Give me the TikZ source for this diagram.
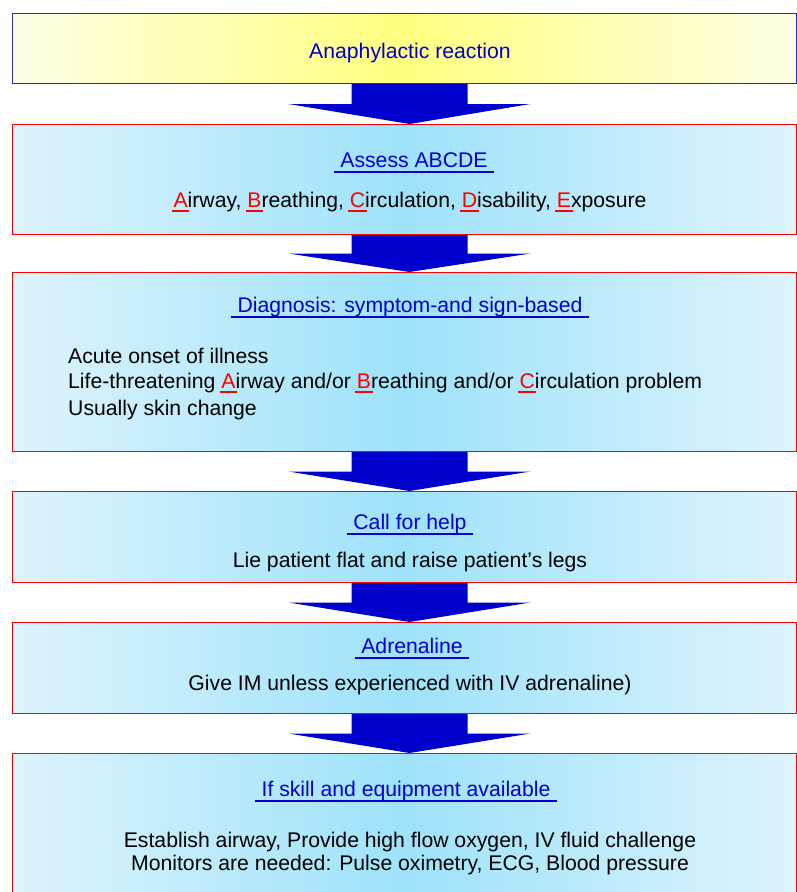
\documentclass[tikz,border=0pt]{standalone}
\usepackage{fontspec}
\setmainfont{Liberation Sans}
\usetikzlibrary{calc}

\definecolor{headblue}{RGB}{0,0,204}
\definecolor{paleblue}{RGB}{222,244,253}
\definecolor{midblue}{RGB}{158,226,250}
\definecolor{paleyellow}{RGB}{255,255,230}
\definecolor{midyellow}{RGB}{255,255,128}

% red initial letter with a red bar under it
\newcommand{\redini}[1]{{\color{red}\setbox0\hbox{#1}\rlap{\hskip-1.5pt\rule[-4.5pt]{\dimexpr\wd0+3pt\relax}{1.8pt}}#1}}
% big blue block arrow from one box down to the next
\newcommand{\flowarrow}[2]{%
	\fill[headblue] ($(#1.south)+(-53,0)$) -- ($(#1.south)+(63,0)$)
		-- ($(#1.south)!0.5!(#2.north)+(63,0)$) -- ($(#1.south)!0.5!(#2.north)+(126,0)$)
		-- ($(#2.north)+(5,0)$)
		-- ($(#1.south)!0.5!(#2.north)+(-116,0)$) -- ($(#1.south)!0.5!(#2.north)+(-53,0)$) -- cycle;}

\begin{document}
\begin{tikzpicture} [
	x=1pt, y=-1pt,
	flowbox/.style = {draw=red, line width=1pt, rectangle, inner sep=0pt, anchor=north west,
		minimum width=784pt, left color=paleblue, right color=paleblue, middle color=midblue},
	startbox/.style = {flowbox, draw=headblue!85, left color=paleyellow, right color=paleyellow, middle color=midyellow},
	headtext/.style = {anchor=base, inner xsep=6pt, inner ysep=0pt, text=headblue, font=\fontsize{21.2}{25}\selectfont},
	bodytext/.style = {anchor=base, inner sep=0pt, font=\fontsize{21.2}{25}\selectfont},
]
\useasboundingbox (0,0) rectangle (796,892);
\node [startbox, minimum height=70pt] (b1) at (12,13) {};
\node [flowbox, minimum height=110pt] (b2) at (12,124) {};
\node [flowbox, minimum height=179pt] (b3) at (12,272) {};
\node [flowbox, minimum height=91pt] (b4) at (12,491) {};
\node [flowbox, minimum height=91pt] (b5) at (12,622) {};
\node [flowbox, minimum height=150pt] (b6) at (12,753) {};

\flowarrow{b1}{b2}
\flowarrow{b2}{b3}
\flowarrow{b3}{b4}
\flowarrow{b4}{b5}
\flowarrow{b5}{b6}

\node [headtext, inner xsep=0pt] (t1) at (410,58) {Anaphylactic reaction};

\node [headtext] (t2) at (414,167) {Assess ABCDE};
\node [bodytext] (a2) at (410,207) {\redini{A}irway, \redini{B}reathing, \redini{C}irculation, \redini{D}isability, \redini{E}xposure};

\node [headtext] (t3) at (410,312) {Diagnosis: symptom-and sign-based};
\node [bodytext, anchor=base west] (a3) at (68,363) {Acute onset of illness};
\node [bodytext, anchor=base west] (c3) at (68,388) {Life-threatening \redini{A}irway and/or \redini{B}reathing and/or \redini{C}irculation problem};
\node [bodytext, anchor=base west] (e3) at (68,415) {Usually skin change};

\node [headtext] (t4) at (410,529) {Call for help};
\node [bodytext] (a4) at (410,567) {Lie patient flat and raise patient’s legs};

\node [headtext] (t5) at (412,653) {Adrenaline};
\node [bodytext] (a5) at (410,690) {Give IM unless experienced with IV adrenaline)};

\node [headtext] (t6) at (406,796) {If skill and equipment available};
\node [bodytext] (a6) at (410,847) {Establish airway, Provide high flow oxygen, IV fluid challenge};
\node [bodytext] (c6) at (410,870) {Monitors are needed: Pulse oximetry, ECG, Blood pressure};

% underlines of the blue headings
\foreach \t in {t2,t3,t4,t5,t6}
	\draw [headblue, line width=1.8pt] ([yshift=-5pt]\t.base west) -- ([yshift=-5pt]\t.base east);
\end{tikzpicture}
\end{document}
